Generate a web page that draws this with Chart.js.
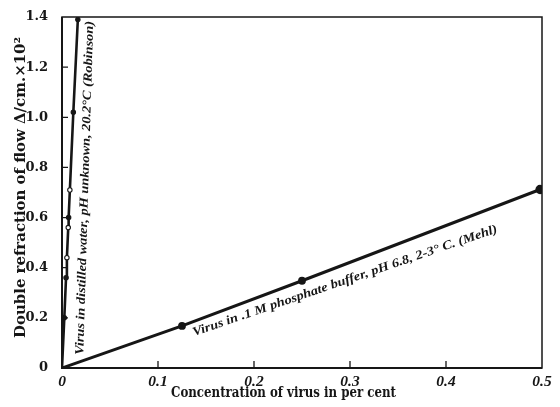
<!DOCTYPE html>
<html>
<head>
<meta charset="utf-8">
<script src="https://cdn.jsdelivr.net/npm/chart.js@4/dist/chart.umd.min.js"></script>
<style>
  html, body { margin: 0; padding: 0; background: #fff; }
  #wrap { width: 560px; height: 407px; position: relative; }
</style>
</head>
<body>
<div id="wrap"><canvas id="chart" width="560" height="407"></canvas></div>
<script>
const xTicks = [0, 0.1, 0.2, 0.3, 0.4, 0.5];
const yTicks = [0, 0.2, 0.4, 0.6, 0.8, 1.0, 1.2, 1.4];

// Robinson, distilled water (steep line)
const robinsonX = [0, 0.0024, 0.0042, 0.0051, 0.0065, 0.0069, 0.0082, 0.0118, 0.0165];
const robinsonY = [0, 0.20, 0.36, 0.44, 0.56, 0.60, 0.71, 1.02, 1.39];
const robinsonOpen = [false, false, false, true, true, false, true, false, false];

// Mehl, phosphate buffer
const mehlX = [0, 0.125, 0.25, 0.498];
const mehlY = [0, 0.168, 0.348, 0.712];

const robinsonLabel = 'Virus in distilled water, pH unknown, 20.2°C (Robinson)';
const mehlLabel = 'Virus in .1 M phosphate buffer, pH 6.8, 2-3° C. (Mehl)';
const xTitle = 'Concentration of virus in per cent';
const yTitle = 'Double refraction of flow \u0394/cm.\u00d710\u00b2';

const ink = '#161616';
const serif = '"Liberation Serif", "DejaVu Serif", serif';
const wide = '"DejaVu Serif", serif';

const toPoints = (xs, ys) => xs.map((x, i) => ({ x, y: ys[i] }));

// draws text from (x0,y0) towards (x1,y1), stretched to that length
function drawAlong(ctx, text, font, x0, y0, x1, y1) {
  ctx.save();
  ctx.font = font;
  ctx.textAlign = 'left';
  ctx.textBaseline = 'middle';
  const len = Math.hypot(x1 - x0, y1 - y0);
  const w = ctx.measureText(text).width;
  ctx.translate(x0, y0);
  ctx.rotate(Math.atan2(y1 - y0, x1 - x0));
  ctx.scale(len / w, 1);
  ctx.fillText(text, 0, 0);
  ctx.restore();
}

const decor = {
  id: 'decor',
  afterDraw(chart) {
    const { ctx, chartArea: a, scales: { x, y } } = chart;
    ctx.save();
    ctx.strokeStyle = ink;
    ctx.lineWidth = 1.5;
    ctx.strokeRect(a.left, a.top, a.right - a.left, a.bottom - a.top);
    ctx.lineWidth = 2;
    ctx.beginPath();
    ctx.moveTo(a.left, a.top); ctx.lineTo(a.left, a.bottom); ctx.lineTo(a.right, a.bottom);
    ctx.stroke();

    // inward tick marks
    ctx.lineWidth = 1.3;
    ctx.beginPath();
    yTicks.slice(1, -1).forEach((v) => {
      const py = y.getPixelForValue(v);
      ctx.moveTo(a.left, py); ctx.lineTo(a.left + 6, py);
    });
    xTicks.slice(1, -1).forEach((v) => {
      const px = x.getPixelForValue(v);
      ctx.moveTo(px, a.bottom); ctx.lineTo(px, a.bottom - 7);
    });
    ctx.stroke();

    ctx.fillStyle = ink;
    // axis titles
    drawAlong(ctx, xTitle, `bold 15px ${wide}`, 171, 393, 396, 393);
    drawAlong(ctx, yTitle, `bold 14px ${wide}`, 21, 338, 21, 37);
    // line annotations
    drawAlong(ctx, robinsonLabel, `italic bold 12.5px ${serif}`, 80, 355, 90, 21);
    drawAlong(ctx, mehlLabel, `italic bold 12.5px ${serif}`, 193, 333, 497, 229);
    ctx.restore();
  }
};

new Chart(document.getElementById('chart'), {
  type: 'scatter',
  data: {
    datasets: [
      {
        label: 'Robinson',
        data: toPoints(robinsonX, robinsonY),
        showLine: true,
        borderColor: ink,
        borderWidth: 2.6,
        pointRadius: robinsonX.map((v, i) => (i === 0 ? 0 : 2.2)),
        pointBackgroundColor: robinsonOpen.map((o) => (o ? '#fff' : ink)),
        pointBorderColor: ink,
        pointBorderWidth: 1.1
      },
      {
        label: 'Mehl',
        data: toPoints(mehlX, mehlY),
        showLine: true,
        borderColor: ink,
        borderWidth: 3,
        pointRadius: mehlX.map((v, i) => (i === 0 ? 0 : i === 3 ? 3.2 : 2.4)),
        pointBackgroundColor: ink,
        pointBorderColor: ink
      }
    ]
  },
  options: {
    responsive: false,
    animation: false,
    devicePixelRatio: 1,
    layout: { padding: { top: 17, right: 18, left: 0, bottom: 0 } },
    plugins: { legend: { display: false }, tooltip: { enabled: false } },
    scales: {
      x: {
        type: 'linear', min: 0, max: 0.5,
        afterBuildTicks: (s) => { s.ticks = xTicks.map((value) => ({ value })); },
        afterFit: (s) => { s.height = 39; },
        grid: { display: false },
        border: { display: false },
        ticks: {
          color: ink, padding: -3,
          font: { family: serif, size: 15.5, weight: 'bold', style: 'italic' },
          callback: (v) => (v === 0 ? '0' : v.toFixed(1))
        }
      },
      y: {
        type: 'linear', min: 0, max: 1.4,
        afterBuildTicks: (s) => { s.ticks = yTicks.map((value) => ({ value })); },
        afterFit: (s) => { s.width = 62; },
        grid: { display: false },
        border: { display: false },
        ticks: {
          color: ink, padding: 6,
          font: { family: wide, size: 13, weight: 'bold' },
          callback: (v) => (v === 0 ? '0' : v.toFixed(1))
        }
      }
    }
  },
  plugins: [decor]
});
</script>
</body>
</html>
